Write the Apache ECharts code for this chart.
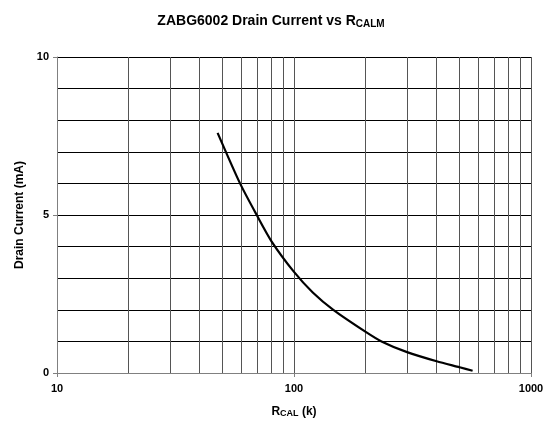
<!DOCTYPE html>
<html>
<head>
<meta charset="utf-8">
<script src="https://cdn.jsdelivr.net/npm/echarts@6/dist/echarts.min.js"></script>
<style>html,body{margin:0;padding:0;background:#fff}#c{width:548px;height:423px}</style>
</head>
<body>
<div id="c"></div>
<script>
// Resistance R_CAL (k) and drain current (mA)
var rcal = [47.6, 59.2, 69.6, 80.5, 100, 120, 146.5, 200, 234, 300, 400, 500, 567];
var drain = [7.6, 6.0, 5.0, 4.16, 3.2, 2.55, 2.0, 1.31, 1.0, 0.66, 0.37, 0.18, 0.07];
// Vertical grid lines on the log axis
var xGrid = [20, 30, 40, 50, 60, 70, 80, 90, 100, 200, 300, 400, 500, 600, 700, 800, 900, 1000];
var yLabels = [0, 5, 10];

var font = 'Arial, "Liberation Sans", sans-serif';
var chart = echarts.init(document.getElementById('c'));
var pts = rcal.map(function (r, i) { return [r, drain[i]]; });

chart.setOption({
  animation: false,
  backgroundColor: '#fff',
  title: {
    text: 'ZABG6002 Drain Current vs R{sub|CALM}',
    left: 266, top: 9, textAlign: 'center',
    textStyle: {
      fontFamily: font, fontSize: 14, fontWeight: 'bold', color: '#000',
      rich: { sub: { fontFamily: font, fontSize: 10, fontWeight: 'bold', color: '#000', verticalAlign: 'bottom', padding: [5, 0, 0, 0] } }
    }
  },
  grid: { left: 57, right: 17, top: 57, bottom: 50 },
  xAxis: {
    type: 'log', logBase: 10, min: 10, max: 1000,
    name: 'R{sub|CAL} (k)', nameLocation: 'middle', nameGap: 32,
    nameTextStyle: {
      fontFamily: font, fontSize: 12, fontWeight: 'bold', color: '#000',
      rich: { sub: { fontFamily: font, fontSize: 9, fontWeight: 'bold', color: '#000', verticalAlign: 'bottom', padding: [4, 0, 0, 0] } }
    },
    axisLine: { show: true, onZero: false, lineStyle: { color: '#808080', width: 1 } },
    axisTick: { show: true, length: 4, inside: false, lineStyle: { color: '#808080' } },
    axisLabel: {
      fontFamily: font, fontSize: 11, fontWeight: 'bold', color: '#000', margin: 10,
      formatter: function (v) { return String(Math.round(v)); }
    },
    splitLine: { show: false },
    minorTick: { show: false }, minorSplitLine: { show: false }
  },
  yAxis: {
    type: 'value', min: 0, max: 10, interval: 5,
    name: 'Drain Current (mA)', nameLocation: 'middle', nameGap: 29, nameRotate: 90,
    nameTextStyle: { fontFamily: font, fontSize: 12, fontWeight: 'bold', color: '#000' },
    axisLine: { show: true, lineStyle: { color: '#808080', width: 1 } },
    axisTick: { show: true, length: 4, lineStyle: { color: '#808080' } },
    axisLabel: {
      fontFamily: font, fontSize: 11, fontWeight: 'bold', color: '#000', margin: 8,
      formatter: function (v) { return yLabels.indexOf(v) >= 0 ? String(v) : ''; }
    },
    splitLine: { show: true, lineStyle: { color: '#000', width: 1 } },
    minorTick: { show: false, splitNumber: 5 },
    minorSplitLine: { show: true, lineStyle: { color: '#000', width: 1 } }
  },
  series: [
    {
      type: 'line', data: [], silent: true,
      markLine: {
        silent: true, symbol: ['none', 'none'], animation: false,
        label: { show: false },
        lineStyle: { color: '#555', width: 1, type: 'solid' },
        data: xGrid.map(function (x) { return { xAxis: x }; })
      }
    },
    {
      type: 'line', data: pts, showSymbol: false, smooth: 0.25,
      lineStyle: { color: '#000', width: 2.2 }, z: 5
    }
  ]
});
</script>
</body>
</html>
